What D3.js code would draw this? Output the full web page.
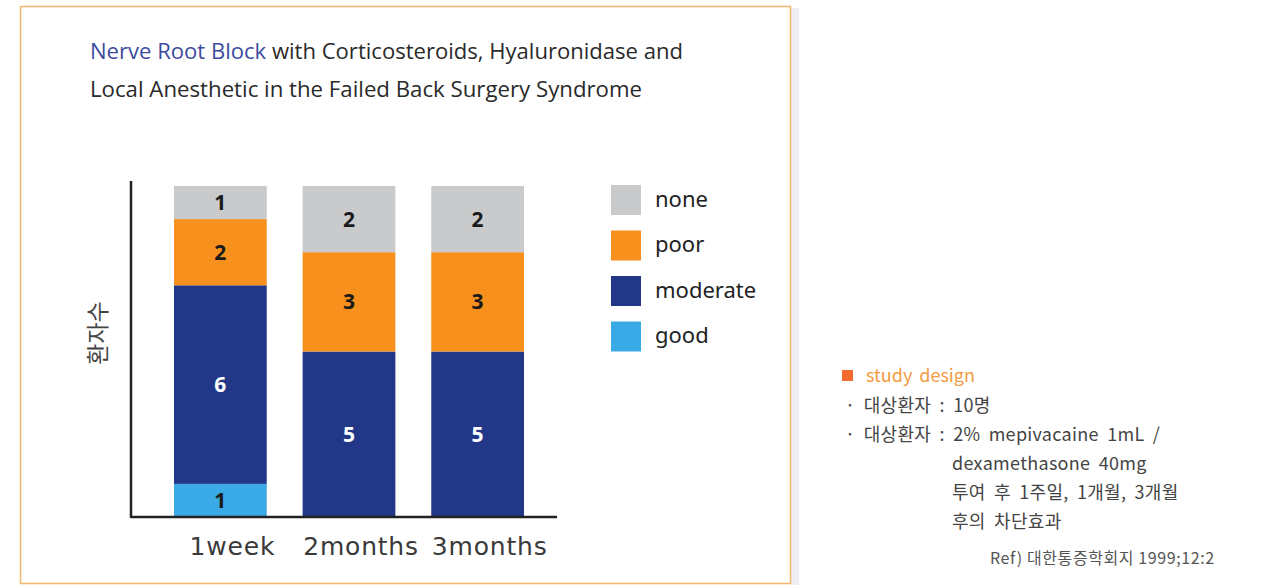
<!DOCTYPE html>
<html>
<head>
<meta charset="utf-8">
<script src="https://cdn.jsdelivr.net/npm/d3@7"></script>
<style>
  body { margin: 0; background: #fff; }
  svg { display: block; }
</style>
</head>
<body>
<div id="chart"></div>
<script>
// data
const periods = ["1week", "2months", "3months"];
const grades = ["good", "moderate", "poor", "none"];
const good = [1, 0, 0];
const moderate = [6, 5, 5];
const poor = [2, 3, 3];
const none = [1, 2, 2];
const legendOrder = ["none", "poor", "moderate", "good"];
const gradeColors = ["#3aaae6", "#233788", "#f8901d", "#c8cacc"];
const labelColors = ["#1a1a1a", "#ffffff", "#1a1a1a", "#1a1a1a"];
const designLines = [
  "· 대상환자 : 10명",
  "· 대상환자 : 2% mepivacaine 1mL /",
  "dexamethasone 40mg",
  "투여 후 1주일, 1개월, 3개월",
  "후의 차단효과"
];
const refText = "Ref) 대한통증학회지 1999;12:2";

let W = 1266, H = 585;
let svg = d3.select("#chart").append("svg")
  .attr("width", W)
  .attr("height", H);

// card frame + little shadow on the right
svg.append("rect")
  .attr("x", 791).attr("y", 8).attr("width", 8).attr("height", H - 8)
  .attr("fill", "#eceef2");
svg.append("rect")
  .attr("x", 20.5).attr("y", 6.5).attr("width", 770).attr("height", 577)
  .attr("fill", "#fff")
  .attr("stroke", "#f4b66e")
  .attr("stroke-width", 1.5);

// title
let title = svg.append("g").attr("font-family", "'Open Sans', 'Noto Sans', sans-serif")
  .attr("font-size", 22);
let t1 = title.append("text").attr("x", 90).attr("y", 59)
  .attr("textLength", 593).attr("lengthAdjust", "spacingAndGlyphs");
t1.append("tspan").attr("fill", "#3d4b9e").text("Nerve Root Block");
t1.append("tspan").attr("fill", "#2a2a2a").text(" with Corticosteroids, Hyaluronidase and");
title.append("text").attr("x", 90).attr("y", 97)
  .attr("fill", "#2a2a2a")
  .attr("textLength", 552).attr("lengthAdjust", "spacingAndGlyphs")
  .text("Local Anesthetic in the Failed Back Surgery Syndrome");

// scales
let x = d3.scaleBand()
  .domain(periods)
  .range([174, 524])
  .paddingInner(0.279)
  .paddingOuter(0);

let y = d3.scaleLinear()
  .domain([0, 10])
  .range([517, 186]);

// stack the series
let rows = periods.map(function (p, i) {
  return { period: p, good: good[i], moderate: moderate[i], poor: poor[i], none: none[i] };
});
let series = d3.stack().keys(grades)(rows);

let color = d3.scaleOrdinal().domain(grades).range(gradeColors);
let labelColor = d3.scaleOrdinal().domain(grades).range(labelColors);

let layer = svg.selectAll(".layer")
  .data(series)
  .enter()
  .append("g")
  .attr("class", "layer")
  .attr("fill", function (d) { return color(d.key); });

layer.selectAll("rect")
  .data(function (d) { return d.filter(function (s) { return s[1] > s[0]; }); })
  .enter()
  .append("rect")
  .attr("x", function (d) { return x(d.data.period); })
  .attr("y", function (d) { return y(d[1]); })
  .attr("width", x.bandwidth())
  .attr("height", function (d) { return y(d[0]) - y(d[1]); });

// value labels inside the segments
layer.selectAll("text")
  .data(function (d) {
    return d.filter(function (s) { return s[1] > s[0]; })
      .map(function (s) { s.key = d.key; return s; });
  })
  .enter()
  .append("text")
  .attr("x", function (d) { return x(d.data.period) + x.bandwidth() / 2; })
  .attr("y", function (d) { return (y(d[0]) + y(d[1])) / 2; })
  .attr("dy", "0.36em")
  .attr("text-anchor", "middle")
  .attr("font-family", "'Open Sans', 'Noto Sans', sans-serif")
  .attr("font-weight", "bold")
  .attr("font-size", 21)
  .attr("fill", function (d) { return labelColor(d.key); })
  .text(function (d) { return d[1] - d[0]; });

// axes
let xAxis = svg.append("g")
  .attr("transform", "translate(0,517)")
  .call(d3.axisBottom(x).tickSize(0).tickPadding(20));
xAxis.select(".domain").remove();
xAxis.selectAll("text")
  .attr("dx", 12)
  .attr("font-family", "'DejaVu Sans', sans-serif")
  .attr("font-size", 25)
  .attr("letter-spacing", 0.8)
  .attr("fill", "#3a3a3a");

svg.append("line")
  .attr("x1", 131).attr("x2", 557)
  .attr("y1", 517).attr("y2", 517)
  .attr("stroke", "#222").attr("stroke-width", 2.5);
svg.append("line")
  .attr("x1", 131).attr("x2", 131)
  .attr("y1", 181).attr("y2", 518)
  .attr("stroke", "#222").attr("stroke-width", 2.5);

// y axis title
svg.append("text")
  .attr("transform", "translate(106,333) rotate(-90)")
  .attr("text-anchor", "middle")
  .attr("font-family", "'Noto Sans CJK KR', sans-serif")
  .attr("font-size", 23)
  .attr("fill", "#444")
  .text("환자수");

// legend
let legend = svg.selectAll(".legend")
  .data(legendOrder)
  .enter()
  .append("g")
  .attr("class", "legend")
  .attr("transform", function (d, i) { return "translate(611," + (185 + i * 45.5) + ")"; });

legend.append("rect")
  .attr("width", 30).attr("height", 30)
  .attr("fill", function (d) { return color(d); });

legend.append("text")
  .attr("x", 44).attr("y", 14)
  .attr("dy", "0.35em")
  .attr("font-family", "'Noto Sans', sans-serif")
  .attr("font-size", 22)
  .attr("fill", "#222")
  .text(function (d) { return d; });

// study design note
let note = svg.append("g")
  .attr("font-family", "'Noto Sans CJK KR', sans-serif");
note.append("rect")
  .attr("x", 842).attr("y", 370).attr("width", 11).attr("height", 11)
  .attr("fill", "#f26a2e");
note.append("text")
  .attr("x", 866).attr("y", 382)
  .attr("font-size", 18)
  .attr("fill", "#f49a42")
  .attr("word-spacing", 3)
  .text("study design");
note.selectAll(".line")
  .data(designLines)
  .enter()
  .append("text")
  .attr("class", "line")
  .attr("x", function (d, i) { return i < 2 ? 845 : 952; })
  .attr("y", function (d, i) { return 412 + i * 29; })
  .attr("font-size", 18)
  .attr("letter-spacing", 0.3)
  .attr("word-spacing", 4)
  .attr("fill", "#444")
  .text(function (d) { return d; });
note.append("text")
  .attr("x", 990).attr("y", 564)
  .attr("font-size", 16)
  .attr("letter-spacing", 0.6)
  .attr("fill", "#555")
  .text(refText);
</script>
</body>
</html>
